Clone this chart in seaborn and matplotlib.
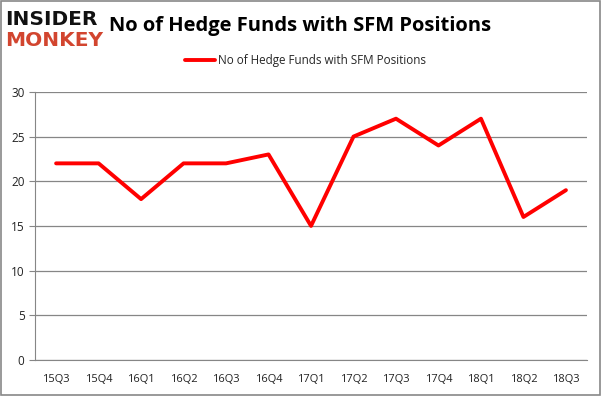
import matplotlib
matplotlib.use("Agg")
import matplotlib.pyplot as plt
import seaborn as sns
import pandas as pd

quarters = ["15Q3", "15Q4", "16Q1", "16Q2", "16Q3", "16Q4", "17Q1",
            "17Q2", "17Q3", "17Q4", "18Q1", "18Q2", "18Q3"]
hedge_funds = [22, 22, 18, 22, 22, 23, 15, 25, 27, 24, 27, 16, 19]
label = "No of Hedge Funds with SFM Positions"

df = pd.DataFrame({"Quarter": quarters, "Funds": hedge_funds})
df["pos"] = range(len(df))

sns.set_style("white")
plt.rcParams["font.family"] = ["Open Sans", "DejaVu Sans"]

fig = plt.figure(figsize=(6.01, 3.96), dpi=100)
ax = fig.add_axes([0.058, 0.091, 0.919, 0.677])

sns.lineplot(data=df, x="pos", y="Funds", color="#ff0000", linewidth=2.8,
             label=label, ax=ax)

ax.set_xlim(-0.5, len(quarters) - 0.5)
ax.set_ylim(0, 30)
ax.set_yticks(range(0, 31, 5))
ax.set_xticks(range(len(quarters)))
ax.set_xticklabels(quarters)
ax.set_xticks([i - 0.5 for i in range(len(quarters) + 1)], minor=True)
ax.tick_params(axis="x", which="major", length=0, labelsize=8, pad=10, labelcolor="#222222")
ax.tick_params(axis="x", which="minor", length=5, color="#868686")
ax.tick_params(axis="y", length=4, color="#868686", labelsize=8.5, direction="out",
               left=True, labelcolor="#222222")
ax.grid(axis="y", color="#868686", linewidth=0.9)
ax.set_axisbelow(True)
ax.set_xlabel("")
ax.set_ylabel("")
for s in ["top", "right"]:
    ax.spines[s].set_visible(False)
for s in ["left", "bottom"]:
    ax.spines[s].set_color("#868686")

ax.legend(loc="lower center", bbox_to_anchor=(0.49, 1.055), frameon=False,
          fontsize=8.4, handlelength=2.6, handletextpad=0.3)

fig.text(0.5, 0.935, "No of Hedge Funds with SFM Positions", ha="center", va="center",
         fontsize=14.5, fontweight="bold", color="black")
fig.text(0.008, 0.952, "INSIDER", ha="left", va="center", fontsize=14.5,
         fontweight="bold", color="#111111", family=["DejaVu Sans"])
fig.text(0.008, 0.898, "MONKEY", ha="left", va="center", fontsize=14.5,
         fontweight="bold", color="#d2452f", family=["DejaVu Sans"])

fig.patches.append(plt.Rectangle((0.001, 0.002), 0.997, 0.995, transform=fig.transFigure,
                                 fill=False, edgecolor="#888888", linewidth=1.2))

fig.savefig("out.png", dpi=100)
plt.close(fig)
